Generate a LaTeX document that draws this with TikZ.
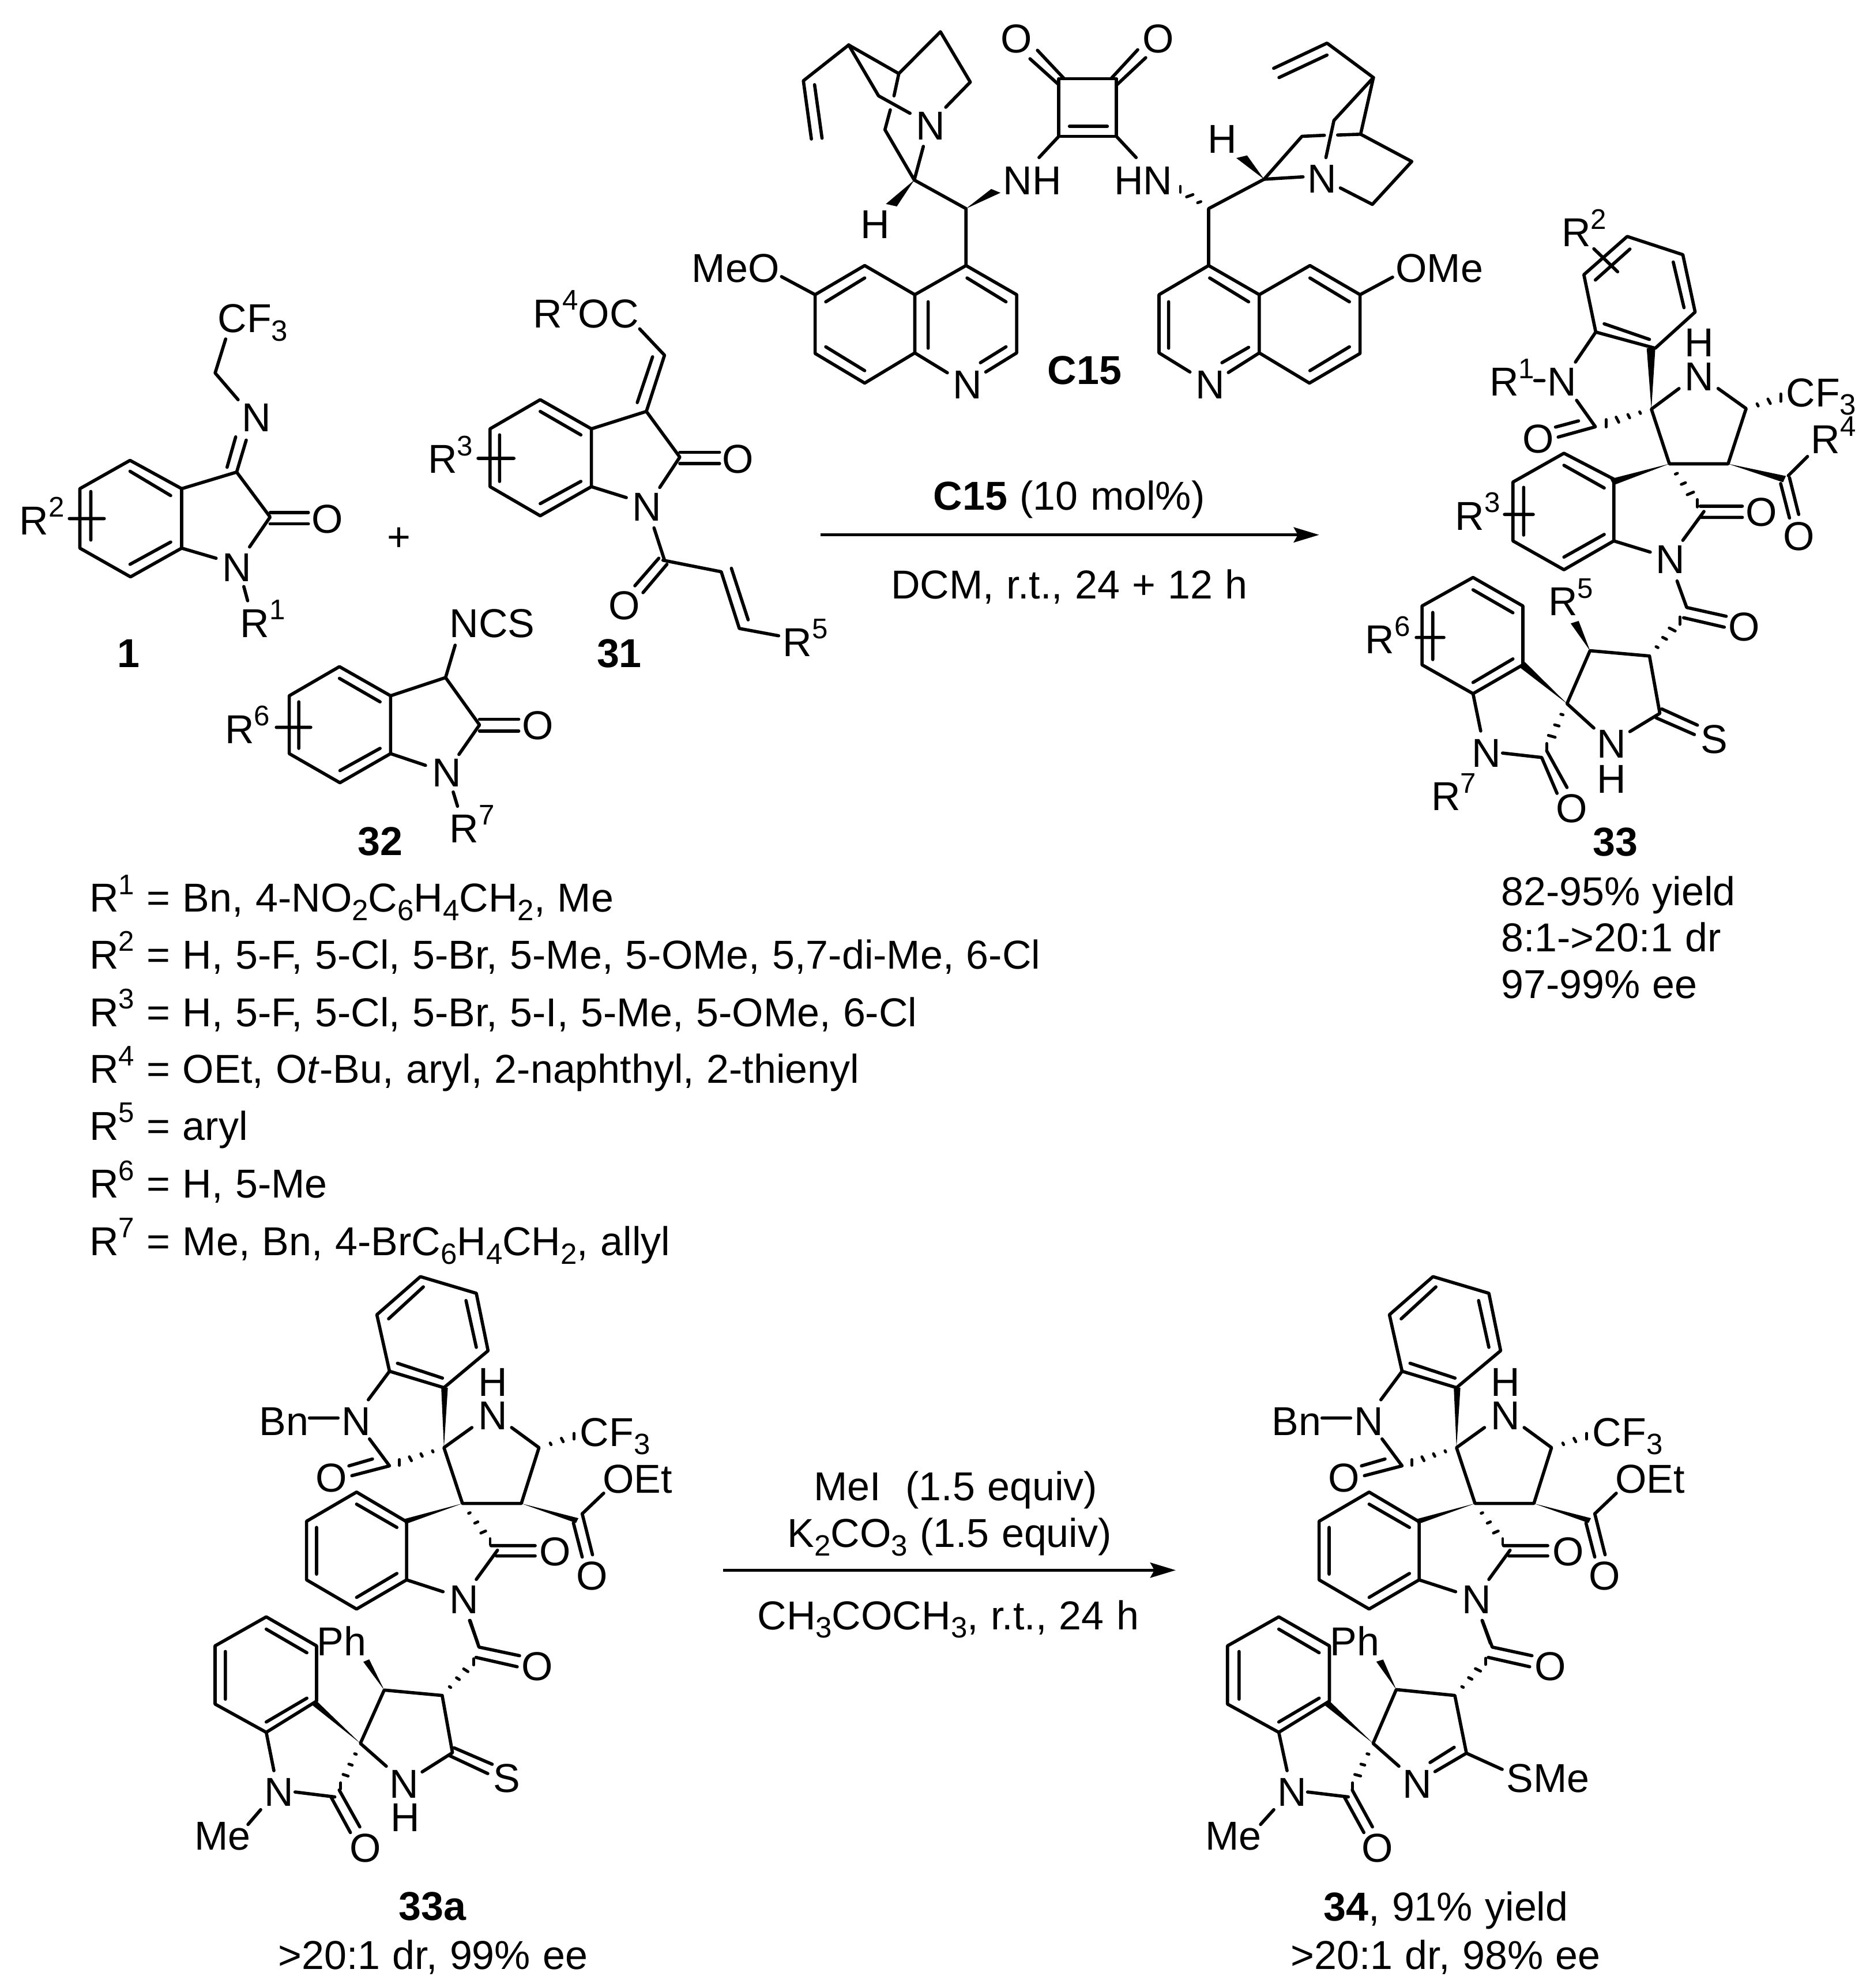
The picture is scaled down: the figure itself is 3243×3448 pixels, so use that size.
\documentclass[tikz,border=0pt]{standalone}
\usepackage{fontspec}
\setmainfont[WordSpace=1.1]{Liberation Sans}
\usetikzlibrary{calc,arrows.meta}
\newcommand\chemf{\fontsize{19.9}{23}\selectfont}
\newcommand\us[1]{\raisebox{8.7pt}{\fontsize{14}{14}\selectfont #1}}
\newcommand\ds[1]{\raisebox{-4.2pt}{\fontsize{14.5}{14.5}\selectfont #1}}
\newcommand\hb[4]{\foreach \kk in {1,...,#3}{\pgfmathsetmacro\hT{\kk/#3}\pgfmathsetmacro\hW{#4*\hT}\draw[hs] ($#1!\hT!#2!\hW pt!90:#2$) -- ($#1!\hT!#2!-\hW pt!90:#2$);}}
\newcommand\wg[3]{\fill #1 -- ($#2!#3 pt!90:#1$) -- ($#2!#3 pt!-90:#1$) -- cycle;}
\tikzset{
 bd/.style={line width=1.6pt,line cap=round,line join=round},
 hs/.style={line width=1.4pt,line cap=round},
 lab/.style={inner sep=0pt,anchor=base west,font=\chemf,xshift=-0.45mm},
 rxn/.style={line width=1.6pt,-{Stealth[length=0.44cm,width=0.26cm,inset=0.07cm]}},
 zA/.style={shift={(1150,0)},xscale=0.92474,yscale=0.45918},
 zB/.style={shift={(0,400)},xscale=0.82908,yscale=0.70153},
 zC/.style={shift={(2200,280)},xscale=0.66518,yscale=0.51020},
 zD/.style={shift={(2200,1000)},xscale=0.66518,yscale=0.51020},
 zE/.style={shift={(400,2230)},xscale=0.51020,yscale=0.39541},
 zF/.style={shift={(300,2780)},xscale=0.51020,yscale=0.42602},
 zG/.style={shift={(2100,2780)},xscale=0.57398,yscale=0.42602},
 zH/.style={shift={(100,1500)},xscale=1.13776,yscale=0.45918},
 zI/.style={shift={(1100,780)},xscale=0.76531,yscale=0.33333},
 zJ/.style={shift={(1230,2500)},xscale=0.53571,yscale=0.33333},
}
\newcommand\topblock[2]{%
\begin{scope}[shift={(#2,0)},zE]
\draw[bd] (497,127)--(645,-40)--(835,33)--(875,285)--(725,447)--(540,375)--cycle;
\draw[bd] (655,5)--(537,145) (800,65)--(835,270) (720,405)--(567,340);
\node[lab] (#1bn) at (105,655) {Bn};
\node[lab] (#1n) at (385,655) {N};
\draw[bd] (268,580)--(365,580) (468,500)--(540,375) (472,672)--(540,790)--(412,833) (482,760)--(402,790);
\node[lab] (#1o) at (297,905) {O};
\hb{(725,710)}{(573,775)}{4}{3.6}
\wg{(725,710)}{(727,447)}{3.2}
\draw[bd] (820,622)--(725,710)--(788,955)--(988,955)--(1048,710)--(955,622);
\node[lab] (#1h) at (850,485) {H};
\node[lab] (#1nh) at (850,630) {N};
\hb{(1048,710)}{(1167,660)}{3}{3.6}
\node[lab] (#1cf) at (1195,703) {CF\ds{3}};
\draw[bd] (1195,1000)--(1268,910) (1165,1040)--(1195,1190) (1195,1000)--(1230,1180);
\node[lab] (#1oet) at (1272,908) {OEt};
\node[lab] (#1oc) at (1182,1335) {O};
\wg{(988,955)}{(1178,1030)}{3.2}
\wg{(788,955)}{(590,1035)}{3.2}
\draw[bd] (428,905)--(598,1035)--(598,1290)--(428,1418)--(258,1290)--(258,1033)--cycle;
\draw[bd] (428,958)--(565,1060) (565,1262)--(428,1367) (292,1060)--(292,1265);
\hb{(788,955)}{(882,1122)}{4}{3.6}
\draw[bd] (885,1140)--(1035,1140) (903,1185)--(1035,1185) (907,1160)--(835,1288) (598,1290)--(722,1342) (812,1468)--(840,1568);
\node[lab] (#1ol) at (1058,1227) {O};
\node[lab] (#1nl) at (752,1438) {N};
\end{scope}}
\begin{document}
\begin{tikzpicture}[x=0.01cm,y=-0.01cm]
\useasboundingbox (0,0) rectangle (3243,3448);
\fill[white] (0,0) rectangle (3243,3448);
% catalyst C15
\begin{scope}[zA]
\draw[bd] (278,525)--(263,305)--(348,170) (298,522)--(284,320);
\draw[bd] (348,170)--(442,278)--(520,120)--(576,310)--(530,405);
\draw[bd] (348,170)--(404,362)--(463,428);
\draw[bd] (442,278)--(433,362) (426,415)--(416,490)--(471,680) (488,553)--(471,680)--(568,788)--(568,1003);
\node[lab] (an1) at (478,528) {N};
\wg{(471,680)}{(428,775)}{3.2}
\node[lab] (ah1) at (375,900) {H};
\wg{(568,788)}{(624,721)}{3.2}
\node[lab] (anh) at (642,735) {NH};
\draw[bd] (378,1003)--(472,1113)--(472,1333)--(378,1447)--(285,1335)--(285,1113)--cycle;
\draw[bd] (378,1050)--(305,1140) (305,1310)--(378,1400) (497,1140)--(497,1315);
\draw[bd] (472,1113)--(568,1003)--(663,1113)--(663,1333)--(605,1405) (570,1050)--(643,1140) (643,1310)--(595,1370) (472,1333)--(533,1408);
\node[lab] (an2) at (548,1505) {N};
\draw[bd] (222,1045)--(285,1113);
\node[lab] (ameo) at (58,1065) {MeO};
\node[lab] (ac15) at (725,1452) {\textbf{C15}};
\draw[bd] (742,297)--(850,297)--(850,515)--(742,515)--cycle (762,477)--(833,477);
\draw[bd] (688,222)--(742,320) (702,190)--(752,297) (890,188)--(840,297) (905,218)--(850,322);
\node[lab] (ao1) at (637,200) {O};
\node[lab] (ao2) at (903,200) {O};
\draw[bd] (742,515)--(705,595) (850,515)--(887,595);
\node[lab] (ahn) at (850,735) {HN};
\hb{(1023,788)}{(970,715)}{3}{3.2}
\draw[bd] (1023,1003)--(1023,788)--(1127,677)--(1200,668);
\wg{(1127,677)}{(1085,592)}{3.2}
\node[lab] (ah2) at (1025,578) {H};
\node[lab] (an3) at (1212,728) {N};
\draw[bd] (1127,677)--(1198,515)--(1240,511) (1265,510)--(1308,507)--(1404,610)--(1330,772)--(1270,710);
\draw[bd] (1308,507)--(1332,293)--(1258,455)--(1243,595);
\draw[bd] (1332,293)--(1245,163)--(1145,258) (1245,208)--(1155,293);
\draw[bd] (1023,1003)--(1118,1113)--(1118,1333)--(1212,1447)--(1307,1335)--(1307,1113)--(1213,1003)--(1118,1113);
\draw[bd] (1023,1003)--(930,1113)--(930,1333)--(988,1405) (1118,1333)--(1060,1407);
\draw[bd] (1025,1050)--(1098,1140) (948,1140)--(948,1315) (1048,1370)--(1098,1312) (1213,1050)--(1287,1140) (1287,1310)--(1213,1400);
\node[lab] (an4) at (1003,1505) {N};
\draw[bd] (1307,1113)--(1368,1047);
\node[lab] (aome) at (1378,1065) {OMe};
\end{scope}
% reactants
\begin{scope}[zB]
\draw[bd] (272,568)--(380,638)--(380,785)--(273,856)--(167,785)--(167,638)--cycle;
\draw[bd] (272,595)--(357,655) (357,770)--(272,825) (190,645)--(190,765) (145,712)--(218,712);
\draw[bd] (380,638)--(495,597)--(565,708)--(522,782) (380,785)--(452,810);
\draw[bd] (565,697)--(645,697) (565,725)--(645,725);
\node[lab] (bo1) at (657,748) {O};
\node[lab] (bn1) at (470,868) {N};
\draw[bd] (510,880)--(518,915);
\node[lab] (br1) at (507,1005) {R\us{1}};
\draw[bd] (495,597)--(515,518) (475,585)--(493,510) (498,418)--(450,352)--(472,268);
\node[lab] (bn2) at (510,497) {N};
\node[lab] (bcf) at (460,252) {CF\ds{3}};
\node[lab] (br2) at (45,752) {R\us{2}};
\node[lab] (bl1) at (250,1080) {\textbf{1}};
\node[lab] (bplus) at (815,792) {+};
\node[lab] (br3) at (900,600) {R\us{3}};
\draw[bd] (1130,418)--(1237,490)--(1237,633)--(1130,705)--(1025,633)--(1025,490)--cycle;
\draw[bd] (1130,447)--(1215,505) (1215,620)--(1130,675) (1045,505)--(1045,620) (1000,563)--(1075,563);
\draw[bd] (1237,490)--(1352,447)--(1422,560)--(1380,635) (1237,633)--(1310,660);
\draw[bd] (1422,548)--(1505,548) (1422,576)--(1505,576);
\node[lab] (bo3) at (1515,600) {O};
\node[lab] (bn3) at (1327,718) {N};
\draw[bd] (1352,447)--(1390,308)--(1338,243) (1333,425)--(1365,312);
\node[lab] (br4) at (1120,240) {R\us{4}OC};
\draw[bd] (1368,735)--(1390,815) (1328,878)--(1378,810) (1345,895)--(1395,825);
\node[lab] (bo4) at (1278,962) {O};
\node[lab] (bl31) at (1253,1080) {\textbf{31}};
\draw[bd] (710,1078)--(817,1150)--(817,1293)--(711,1365)--(605,1293)--(605,1150)--cycle;
\draw[bd] (710,1107)--(795,1165) (795,1280)--(711,1335) (625,1165)--(625,1280) (578,1228)--(650,1228);
\draw[bd] (817,1150)--(932,1105)--(1003,1222)--(960,1295) (817,1293)--(890,1322);
\draw[bd] (1003,1208)--(1085,1208) (1003,1237)--(1085,1237);
\node[lab] (bo5) at (1097,1258) {O};
\node[lab] (bn5) at (908,1375) {N};
\draw[bd] (948,1388)--(957,1423) (932,1105)--(952,1025);
\node[lab] (br7) at (945,1513) {R\us{7}};
\node[lab] (bncs) at (945,1005) {NCS};
\node[lab] (br6) at (475,1268) {R\us{6}};
\node[lab] (bl32) at (753,1545) {\textbf{32}};
\end{scope}
% alkene of 31 and first arrow
\begin{scope}[zI]
\draw[bd] (65,575)--(197,635)--(238,930)--(327,968) (220,617)--(258,885);
\node[lab] (ir5) at (342,1075) {R\us{5}};
\coordinate (ar1s) at (422,443);
\coordinate (ar1e) at (1552,443);
\draw[rxn] (ar1s)--(ar1e);
\node[lab] (icat) at (683,312) {\textbf{C15} (10 mol\%)};
\node[lab] (icond) at (587,775) {DCM, r.t., 24 + 12 h};
\end{scope}
% product 33 upper
\begin{scope}[zC]
\draw[bd] (935,255)--(1080,317)--(1112,512)--(1008,635)--(853,580)--(822,385)--cycle;
\draw[bd] (942,298)--(852,403) (1055,342)--(1083,497) (993,605)--(875,552) (848,297)--(910,375);
\node[lab] (cr2) at (770,290) {R\us{2}};
\draw[bd] (853,580)--(800,682) (694,745)--(718,745) (803,812)--(852,902)--(755,937) (808,882)--(748,903);
\node[lab] (cr1) at (582,797) {R\us{1}};
\node[lab] (cn1) at (733,797) {N};
\node[lab] (co1) at (668,990) {O};
\hb{(998,842)}{(880,890)}{4}{3.6}
\wg{(998,842)}{(997,635)}{3.2}
\draw[bd] (1070,772)--(998,842)--(1045,1028)--(1198,1028)--(1245,840)--(1172,772);
\node[lab] (cn2) at (1090,780) {N};
\node[lab] (ch2) at (1090,663) {H};
\hb{(1245,840)}{(1335,803)}{3}{3.6}
\node[lab] (ccf) at (1355,833) {CF\ds{3}};
\draw[bd] (1355,1068)--(1405,1003) (1335,1095)--(1358,1212) (1358,1075)--(1382,1200);
\node[lab] (cr4) at (1420,993) {R\us{4}};
\wg{(1198,1028)}{(1345,1080)}{3.2}
\node[lab] (co2) at (1347,1323) {O};
\wg{(1045,1028)}{(895,1090)}{3.2}
\draw[bd] (770,992)--(900,1080)--(900,1290)--(770,1388)--(637,1290)--(637,1090)--cycle;
\draw[bd] (770,1033)--(875,1110) (875,1268)--(770,1345) (665,1108)--(665,1270) (615,1200)--(690,1200);
\node[lab] (cr3) at (492,1253) {R\us{3}};
\hb{(1045,1028)}{(1118,1162)}{4}{3.6}
\draw[bd] (1125,1172)--(1235,1172) (1125,1210)--(1235,1210) (1135,1190)--(1080,1288) (900,1290)--(995,1328);
\node[lab] (co3) at (1250,1240) {O};
\node[lab] (cn3) at (1015,1400) {N};
\end{scope}
% product 33 lower
\begin{scope}[zD]
\draw[bd] (1065,15)--(1090,105)--(1193,135) (1082,140)--(1188,172);
\node[lab] (do1) at (1205,218) {O};
\hb{(993,270)}{(1072,150)}{4}{3.6}
\draw[bd] (848,515)--(778,432)--(838,252)--(993,270)--(1020,465)--(942,527);
\node[lab] (dn1) at (862,617) {N};
\node[lab] (dh1) at (862,735) {H};
\draw[bd] (1025,450)--(1118,505) (1010,480)--(1110,537);
\node[lab] (ds1) at (1132,600) {S};
\wg{(838,252)}{(798,155)}{3.2}
\node[lab] (dr5) at (735,133) {R\us{5}};
\draw[bd] (533,3)--(663,100)--(663,300)--(533,398)--(400,300)--(400,100)--cycle;
\draw[bd] (533,45)--(637,123) (637,280)--(533,360) (428,122)--(428,282) (385,207)--(457,207);
\node[lab] (dr6) at (258,262) {R\us{6}};
\wg{(778,432)}{(660,298)}{3.2}
\hb{(778,432)}{(725,580)}{4}{3.6}
\draw[bd] (533,398)--(553,525) (610,600)--(712,615)--(752,737) (725,592)--(778,717);
\node[lab] (dn2) at (535,647) {N};
\node[lab] (do2) at (755,835) {O};
\node[lab] (dr7) at (430,795) {R\us{7}};
\node[lab] (dl33) at (852,950) {\textbf{33}};
\node[lab] (dy) at (612,1118) {82-95\% yield};
\node[lab] (ddr) at (612,1275) {8:1->20:1 dr};
\node[lab] (dee) at (612,1433) {97-99\% ee};
\end{scope}
% substituent list
\begin{scope}[zH]
\node[lab] (r1) at (52,178) {R\us{1} = Bn, 4-NO\ds{2}C\ds{6}H\ds{4}CH\ds{2}, Me};
\node[lab] (r2) at (52,392) {R\us{2} = H, 5-F, 5-Cl, 5-Br, 5-Me, 5-OMe, 5,7-di-Me, 6-Cl};
\node[lab] (r3) at (52,610) {R\us{3} = H, 5-F, 5-Cl, 5-Br, 5-I, 5-Me, 5-OMe, 6-Cl};
\node[lab] (r4) at (52,825) {R\us{4} = OEt, O\textit{t}-Bu, aryl, 2-naphthyl, 2-thienyl};
\node[lab] (r5) at (52,1040) {R\us{5} = aryl};
\node[lab] (r6) at (52,1258) {R\us{6} = H, 5-Me};
\node[lab] (r7) at (52,1475) {R\us{7} = Me, Bn, 4-BrC\ds{6}H\ds{4}CH\ds{2}, allyl};
\end{scope}
% second reaction
\topblock{e}{0}
\topblock{g}{1756}
\begin{scope}[zF]
\draw[bd] (1010,72)--(1040,180)--(1178,215) (1030,222)--(1170,260);
\node[lab] (fo1) at (1192,315) {O};
\hb{(915,377)}{(1022,240)}{4}{3.6}
\draw[bd] (725,665)--(637,572)--(718,355)--(915,377)--(950,610)--(847,688);
\node[lab] (fn1) at (743,795) {N};
\node[lab] (fh1) at (747,930) {H};
\draw[bd] (955,590)--(1085,657) (940,622)--(1070,695);
\node[lab] (fs1) at (1097,770) {S};
\node[lab] (fph) at (497,215) {Ph};
\wg{(718,355)}{(657,235)}{3.2}
\draw[bd] (317,57)--(488,175)--(488,400)--(317,527)--(143,412)--(143,175)--cycle;
\draw[bd] (317,107)--(455,203) (455,388)--(317,485) (178,198)--(178,392);
\wg{(637,572)}{(480,407)}{3.2}
\hb{(637,572)}{(570,745)}{4}{3.6}
\draw[bd] (317,527)--(343,683) (415,770)--(550,790) (537,790)--(603,935) (565,762)--(635,912) (298,842)--(255,902);
\node[lab] (fn2) at (318,828) {N};
\node[lab] (fo2) at (608,1055) {O};
\node[lab] (fme) at (80,1005) {Me};
\node[lab] (fl) at (775,1292) {\textbf{33a}};
\node[lab] (fdr) at (365,1492) {>20:1 dr, 99\% ee};
\end{scope}
\begin{scope}[zG]
\draw[bd] (820,72)--(850,180)--(970,215) (838,222)--(963,260);
\node[lab] (go1) at (985,315) {O};
\hb{(737,377)}{(830,238)}{4}{3.6}
\draw[bd] (568,665)--(490,572)--(560,353)--(737,377)--(772,612)--(677,687) (735,588)--(662,650) (772,612)--(880,678);
\node[lab] (gn1) at (585,795) {N};
\node[lab] (gsme) at (900,772) {SMe};
\node[lab] (gph) at (367,215) {Ph};
\wg{(560,353)}{(510,235)}{3.2}
\draw[bd] (205,57)--(358,175)--(358,400)--(205,527)--(50,412)--(50,175)--cycle;
\draw[bd] (205,107)--(327,203) (327,388)--(205,485) (85,198)--(85,392);
\wg{(490,572)}{(350,407)}{3.2}
\hb{(490,572)}{(428,745)}{4}{3.6}
\draw[bd] (205,527)--(230,683) (292,770)--(415,790) (403,790)--(462,935) (427,762)--(488,912) (190,842)--(150,902);
\node[lab] (gn2) at (207,828) {N};
\node[lab] (go2) at (463,1055) {O};
\node[lab] (gme) at (-10,1005) {Me};
\node[lab] (gl) at (347,1295) {\textbf{34}, 91\% yield};
\node[lab] (gdr) at (248,1492) {>20:1 dr, 98\% ee};
\end{scope}
\begin{scope}[zJ]
\coordinate (ar2s) at (45,670);
\coordinate (ar2e) at (1510,670);
\draw[rxn] (ar2s)--(ar2e);
\node[lab] (jm) at (345,307) {MeI\ \ (1.5 equiv)};
\node[lab] (jk) at (260,550) {K\ds{2}CO\ds{3} (1.5 equiv)};
\node[lab] (jc) at (163,978) {CH\ds{3}COCH\ds{3}, r.t., 24 h};
\end{scope}
\end{tikzpicture}
\end{document}
